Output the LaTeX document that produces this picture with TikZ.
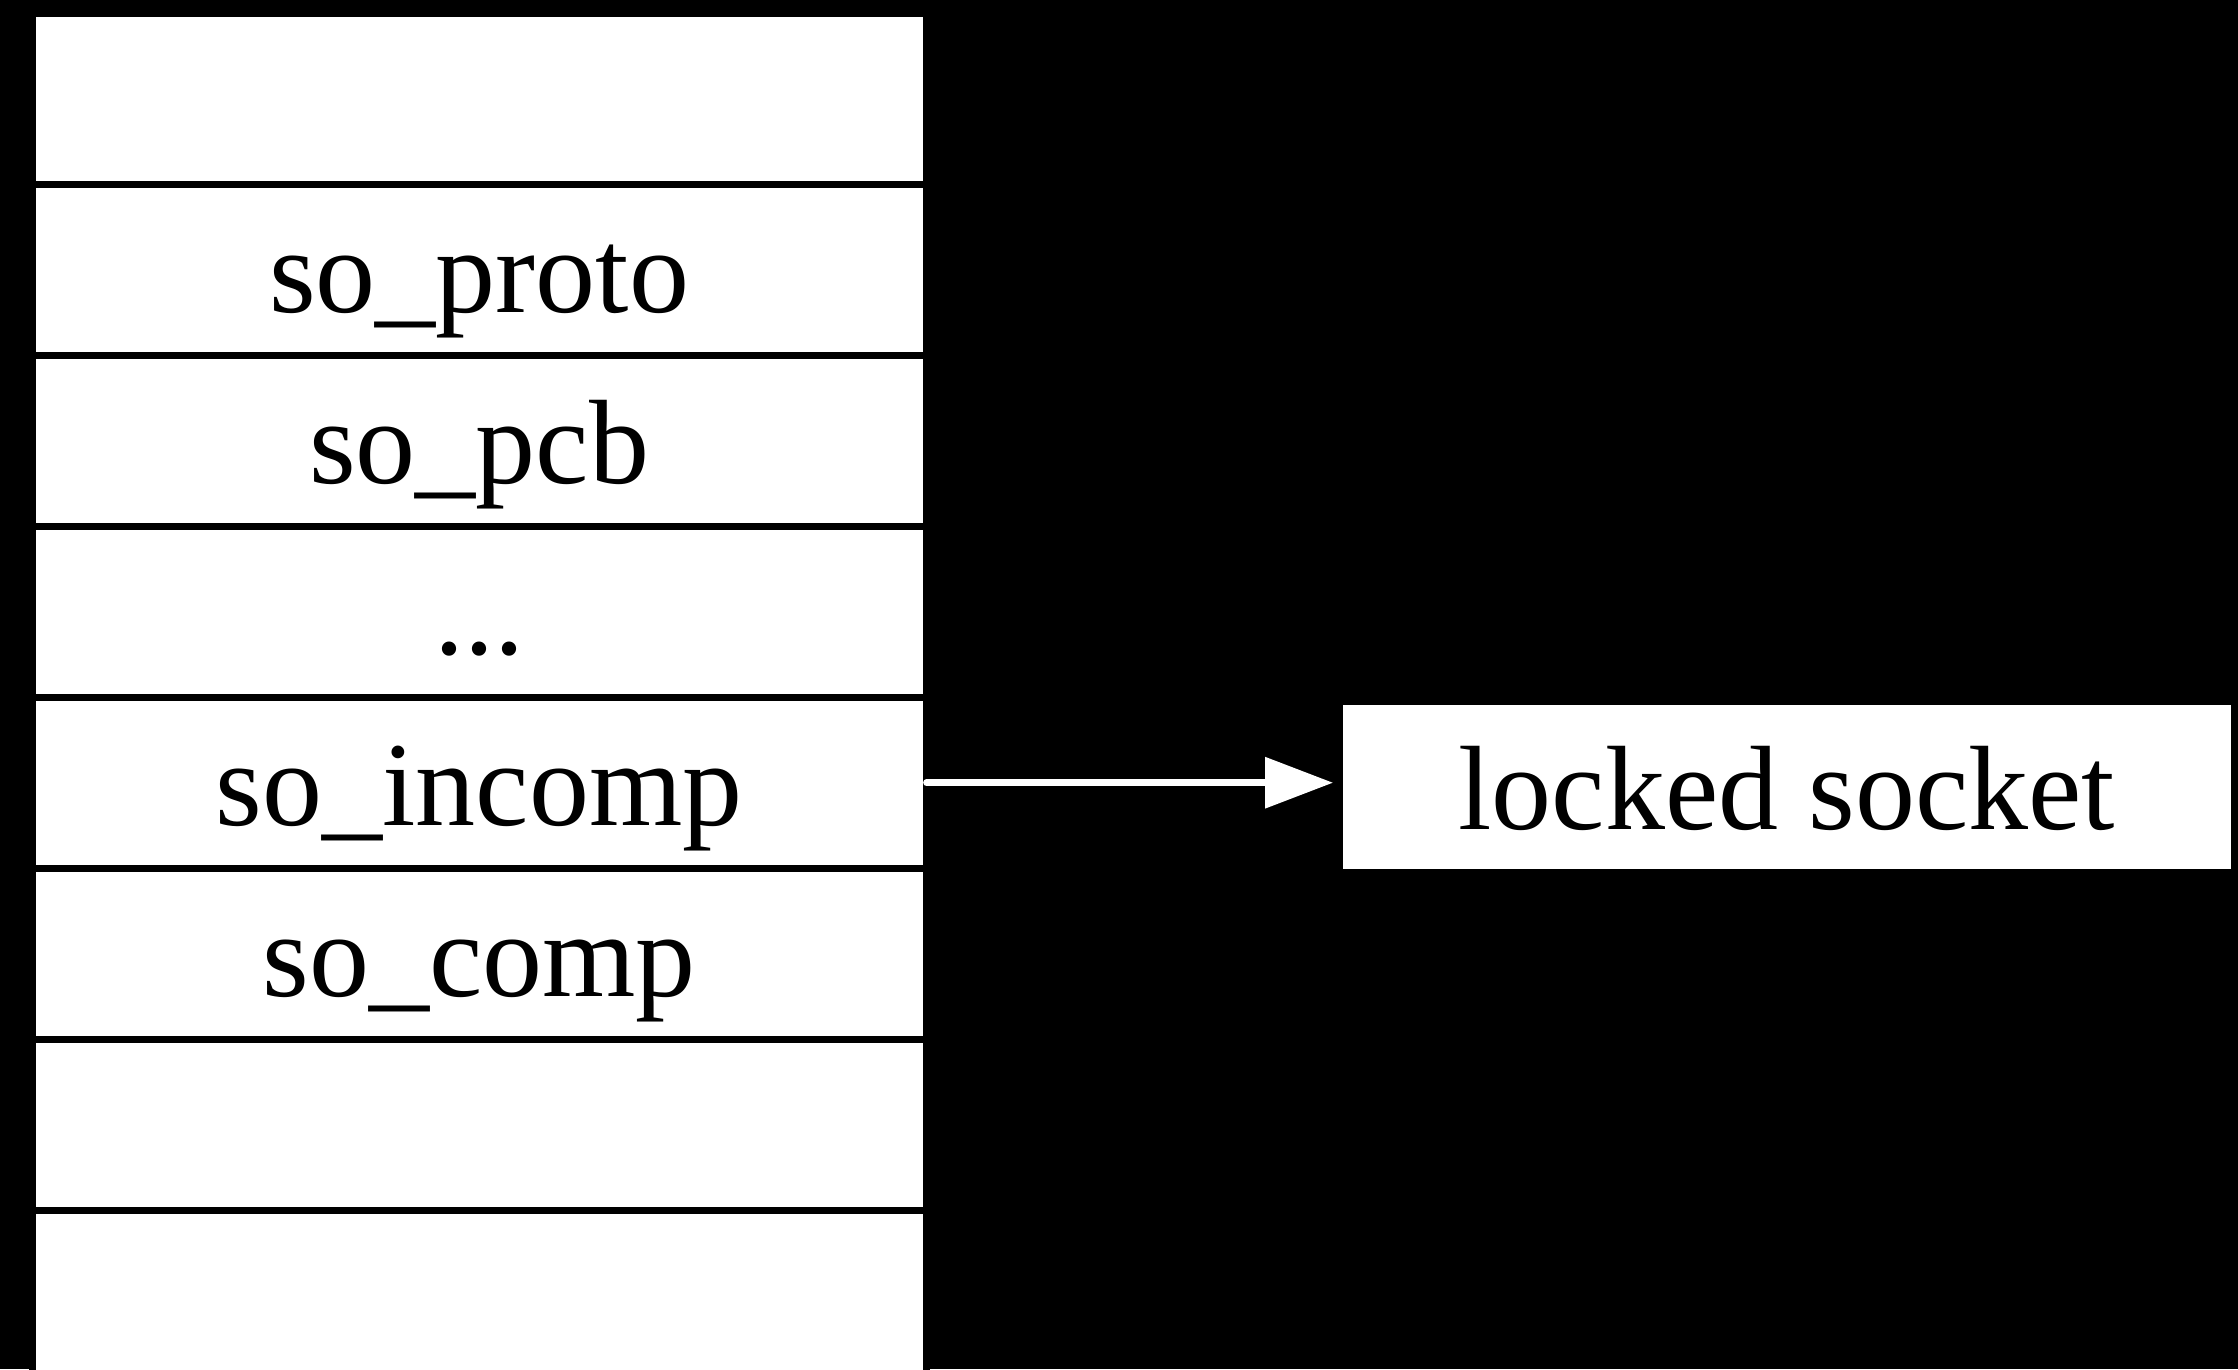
\documentclass[tikz,border=0pt]{standalone}
\usepackage{fontspec}
\setmainfont{Liberation Serif}
\usepackage{tikz}
\usetikzlibrary{arrows.meta,positioning}
\tikzstyle{cell} = [rectangle, draw=black, line width=1.4pt, fill=white, text=black, text centered, font=\fontsize{24}{28}\selectfont, minimum width=178.9pt, minimum height=34.2pt, inner sep=0pt, outer sep=0pt, text height=21.2pt, text depth=4pt]
\tikzstyle{tedge}  = [draw, white, line width=1.34pt, line cap=round, -{Triangle[length=13.6pt, width=10pt]}, shorten >=1.3pt]

\begin{document}
\begin{tikzpicture}[auto]

% background =============================
\fill[black] (0,0) rectangle (447.6pt,-273.8pt);
\useasboundingbox (0,0) rectangle (447.6pt,-273.8pt);

% nodes
\node[cell, anchor=north west] (blank1) at (6.4pt,-2.64pt) {};
\node[cell, below=0pt of blank1] (proto) {so\_proto};
\node[cell, below=0pt of proto] (pcb) {so\_pcb};
\node[cell, below=0pt of pcb] (dots) {...};
\node[cell, below=0pt of dots] (incomp) {so\_incomp};
\node[cell, below=0pt of incomp] (comp) {so\_comp};
\node[cell, below=0pt of comp] (blank2) {};
\node[cell, below=0pt of blank2] (blank3) {};
\node[cell, right=82.6pt of incomp, yshift=-0.8pt] (locked) {locked socket};

% edges
\path[tedge] (incomp.east) -- (locked.west |- incomp.east);

\end{tikzpicture}
\end{document}
